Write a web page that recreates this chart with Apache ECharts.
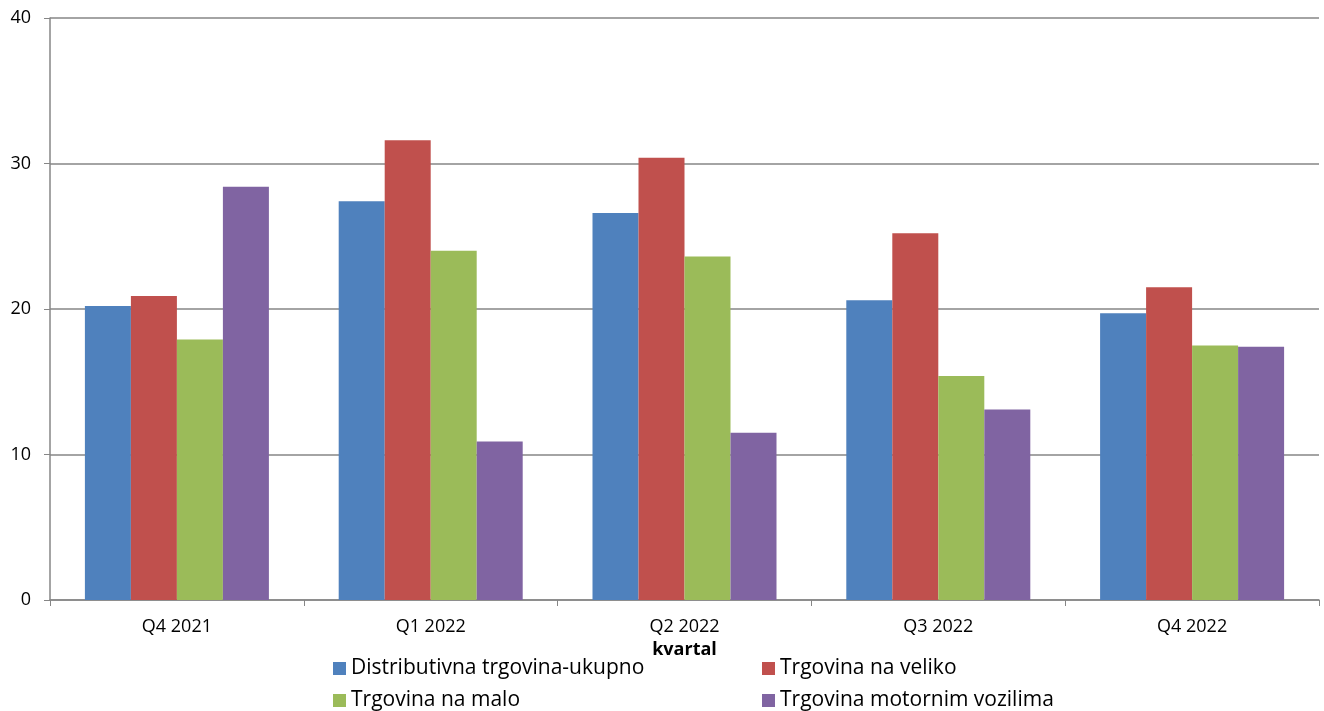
<!DOCTYPE html>
<html><head><meta charset="utf-8">
<script src="https://cdn.jsdelivr.net/npm/echarts@6/dist/echarts.min.js"></script>
<style>html,body{margin:0;padding:0;background:#fff}#c{width:1324px;height:711px}</style>
</head><body><div id="c"></div>
<script>
const categories = ['Q4 2021','Q1 2022','Q2 2022','Q3 2022','Q4 2022'];
const seriesNames = ['Distributivna trgovina-ukupno','Trgovina na veliko','Trgovina na malo','Trgovina motornim vozilima'];
const distributivna = [20.2, 27.4, 26.6, 20.6, 19.7];
const veliko = [20.9, 31.6, 30.4, 25.2, 21.5];
const malo = [17.9, 24.0, 23.6, 15.4, 17.5];
const motorna = [28.4, 10.9, 11.5, 13.1, 17.4];
const colors = ['#4F81BD','#C0504D','#9BBB59','#8064A2'];
const values = [distributivna, veliko, malo, motorna];
const font = '"Open Sans", "Liberation Sans", sans-serif';

const chart = echarts.init(document.getElementById('c'));
const legendPos = [[328,653],[757,653],[328,685],[757,685]];
chart.setOption({
  animation:false,
  color: colors,
  grid:{left:50, right:5, top:18, bottom:111, containLabel:false},
  legend: seriesNames.map((n,i)=>({
    data:[n], left:legendPos[i][0], top:legendPos[i][1], itemWidth:13, itemHeight:13, itemGap:6,
    icon:'rect', textStyle:{fontSize:21, color:'#000', fontFamily:font}
  })),
  xAxis:{
    type:'category', data:categories, name:'kvartal', nameLocation:'middle', nameGap:39,
    nameTextStyle:{fontSize:18, fontWeight:'bold', color:'#000', fontFamily:font},
    axisLine:{lineStyle:{color:'#868686', width:1.5}},
    axisTick:{show:true, length:6, lineStyle:{color:'#868686'}},
    axisLabel:{fontSize:18, color:'#000', margin:18, fontFamily:font}
  },
  yAxis:{
    type:'value', min:0, max:40, interval:10,
    axisLine:{show:true, lineStyle:{color:'#868686', width:1.5}},
    axisTick:{show:true, length:6, lineStyle:{color:'#868686'}},
    axisLabel:{fontSize:18, color:'#000', margin:19, fontFamily:font},
    splitLine:{lineStyle:{color:'#868686', width:1.5}}
  },
  series: seriesNames.map((n,i)=>({
    name:n, type:'bar', data:values[i], barGap:'0%', barCategoryGap:'27.5%',
    itemStyle:{color:colors[i]}
  }))
});
</script></body></html>
